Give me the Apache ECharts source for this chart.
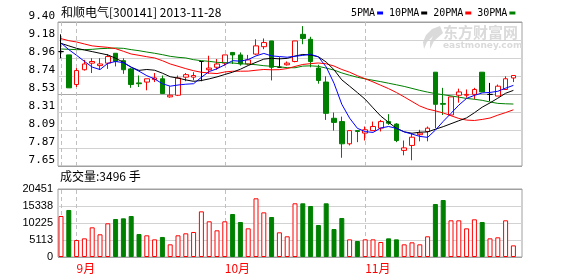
<!DOCTYPE html>
<html><head><meta charset="utf-8">
<script src="https://cdn.jsdelivr.net/npm/echarts@6/dist/echarts.min.js"></script>
<style>html,body{margin:0;padding:0;background:#fff}#c{width:578px;height:276px}</style>
</head><body><div id="c"></div>
<script>
const dates = ['2013-08-29','2013-08-30',
 '2013-09-02','2013-09-03','2013-09-04','2013-09-05','2013-09-06','2013-09-09','2013-09-10','2013-09-11','2013-09-12','2013-09-13',
 '2013-09-16','2013-09-17','2013-09-18','2013-09-23','2013-09-24','2013-09-25','2013-09-26','2013-09-27','2013-09-30',
 '2013-10-08','2013-10-09','2013-10-10','2013-10-11','2013-10-14','2013-10-15','2013-10-16','2013-10-17','2013-10-18',
 '2013-10-21','2013-10-22','2013-10-23','2013-10-24','2013-10-25','2013-10-28','2013-10-29','2013-10-30','2013-10-31',
 '2013-11-01','2013-11-04','2013-11-05','2013-11-06','2013-11-07','2013-11-08','2013-11-11','2013-11-12','2013-11-13','2013-11-14','2013-11-15',
 '2013-11-18','2013-11-19','2013-11-20','2013-11-21','2013-11-22','2013-11-25','2013-11-26','2013-11-27','2013-11-28'];
const opens = [9.04,9.00,8.64,8.82,8.90,8.87,8.90,9.02,8.93,8.83,8.66,8.67,8.70,8.71,8.49,8.51,8.73,8.73,8.92,8.82,8.85,8.90,9.03,9.00,8.89,9.01,9.10,9.17,8.85,8.88,8.92,9.25,9.19,8.84,8.67,8.23,8.19,7.92,8.08,8.05,8.08,8.11,8.19,8.16,7.84,7.90,8.03,8.07,8.79,8.41,8.27,8.51,8.51,8.52,8.79,8.52,8.50,8.58,8.72];
const closes = [9.04,8.60,8.81,8.89,8.92,8.89,8.98,8.92,8.82,8.64,8.65,8.71,8.72,8.53,8.51,8.72,8.76,8.75,8.92,8.84,8.89,9.00,9.00,8.89,8.94,9.11,9.15,8.85,8.85,8.90,9.17,9.20,8.92,8.69,8.29,8.18,7.92,8.08,8.07,8.09,8.13,8.19,8.17,7.96,7.87,8.00,8.05,8.11,8.40,8.40,8.49,8.55,8.52,8.58,8.55,8.52,8.62,8.71,8.75];
const lows = [8.96,8.60,8.61,8.81,8.78,8.82,8.83,8.86,8.77,8.60,8.61,8.57,8.67,8.53,8.48,8.50,8.68,8.69,8.68,8.77,8.82,8.87,8.89,8.87,8.88,9.00,9.07,8.69,8.85,8.87,8.91,9.13,8.85,8.65,8.21,8.08,7.75,7.90,7.94,7.96,8.08,8.07,8.15,7.94,7.78,7.72,7.95,7.95,8.11,8.27,8.27,8.42,8.48,8.46,8.55,8.44,8.50,8.58,8.67];
const highs = [9.25,9.00,8.84,8.94,8.96,8.96,9.01,9.02,8.96,8.84,8.75,8.71,8.78,8.75,8.62,8.75,8.78,8.79,8.92,8.99,8.95,9.00,9.03,9.03,9.00,9.19,9.20,9.17,8.97,8.92,9.17,9.35,9.22,8.88,8.74,8.30,8.25,8.08,8.08,8.13,8.19,8.21,8.28,8.17,7.96,8.05,8.09,8.13,8.79,8.60,8.49,8.59,8.58,8.60,8.79,8.66,8.64,8.74,8.75];
const volumes = [12330,14140,5113,5610,8920,6820,10130,11430,11630,12330,6920,6520,5310,6020,3810,6520,7120,7520,13730,10730,8020,10730,12930,10530,8620,17650,13430,12030,7420,6220,16150,16150,15340,9620,16150,8420,11730,5310,4810,5310,5310,4510,5610,5310,3810,4410,3810,6220,15940,17140,11030,11030,8620,11330,10530,5610,5920,11030,3496];
const ma5 = [9.145,9.064,8.995,8.922,8.852,8.822,8.898,8.92,8.906,8.85,8.802,8.748,8.708,8.65,8.62,8.634,8.644,8.65,8.728,8.798,8.832,8.88,8.93,8.924,8.944,8.988,9.018,8.988,8.98,8.972,8.984,8.994,9.008,8.976,8.854,8.656,8.40,8.232,8.108,8.068,8.058,8.112,8.13,8.108,8.064,8.038,8.01,7.998,8.086,8.192,8.29,8.39,8.472,8.508,8.538,8.544,8.558,8.596,8.63];
const ma10 = [9.14,9.11,9.08,9.06,9.04,9.02,9.00,8.96,8.91,8.851,8.812,8.823,8.814,8.778,8.735,8.718,8.696,8.679,8.689,8.709,8.733,8.762,8.79,8.826,8.871,8.91,8.949,8.959,8.952,8.958,8.986,9.006,8.998,8.978,8.913,8.82,8.697,8.62,8.542,8.461,8.357,8.256,8.181,8.108,8.066,8.048,8.061,8.064,8.097,8.128,8.164,8.20,8.235,8.297,8.365,8.417,8.474,8.534,8.569];
const ma20 = [9.198,9.173,9.157,9.133,9.11,9.10,9.092,9.076,9.044,9.011,8.995,8.978,8.963,8.93,8.89,8.862,8.833,8.808,8.789,8.78,8.773,8.793,8.802,8.802,8.803,8.814,8.823,8.819,8.821,8.834,8.86,8.884,8.894,8.902,8.892,8.865,8.823,8.79,8.747,8.71,8.672,8.631,8.59,8.543,8.49,8.434,8.379,8.342,8.32,8.295,8.261,8.228,8.208,8.203,8.216,8.233,8.268,8.299,8.333];
const ma30 = [9.072,9.068,9.064,9.064,9.068,9.076,9.08,9.084,9.08,9.064,9.051,9.035,9.02,9.003,8.983,8.971,8.963,8.942,8.93,8.922,8.91,8.905,8.902,8.893,8.888,8.881,8.869,8.862,8.855,8.845,8.844,8.864,8.867,8.861,8.84,8.816,8.781,8.753,8.728,8.709,8.692,8.675,8.656,8.637,8.617,8.593,8.569,8.548,8.53,8.516,8.502,8.487,8.471,8.461,8.448,8.428,8.411,8.406,8.403];
const priceTicks = ['7.65','7.87','8.09','8.31','8.53','8.74','8.96','9.18','9.40'];
const volTicks = ['0','5113','10225','15338','20451'];
const monthLineIdx = [0, 2, 21, 39];
const monthLabelIdx = [2, 21, 39];
const monthLabels = ['9月', '10月', '11月'];
const stockTitle = '和顺电气[300141] 2013-11-28';

const RED = '#ff0000', GREEN = '#008000', GRIDC = '#d2d2d2', FRAME = '#a0a0a0';
const candleData = opens.map((o, i) => [o, closes[i], lows[i], highs[i]]);
const volUp = volumes.map((v, i) => closes[i] >= opens[i] ? v : '-');
const volDown = volumes.map((v, i) => closes[i] < opens[i] ? v : '-');
const monthLines = monthLineIdx.map(i => ({ xAxis: i }));
const markLineStyle = { silent: true, symbol: 'none', z: 1, label: { show: false },
  lineStyle: { color: '#c0c0c0', type: [4, 3], width: 1 }, data: monthLines, animation: false };
const mono = 'DejaVu Sans Mono';
const cjk = 'Noto Sans CJK SC';

const chart = echarts.init(document.getElementById('c'), null, { renderer: 'canvas' });
chart.setOption({
  animation: false,
  backgroundColor: '#fff',
  title: [
    { text: stockTitle, left: 61, top: 6, padding: 0, textStyle: { fontSize: 12, fontWeight: 'normal', fontFamily: cjk, color: '#000' } },
    { text: '成交量:' + volumes[volumes.length - 1] + ' 手', left: 60, top: 170, padding: 0, textStyle: { fontSize: 12, fontWeight: 'normal', fontFamily: cjk, color: '#000' } }
  ],
  legend: {
    left: 351, top: 8, padding: 0, align: 'right', itemWidth: 6, itemHeight: 3, itemGap: 6, selectedMode: false,
    textStyle: { fontFamily: mono, fontSize: 10, color: '#000', padding: [0, -3, 0, 0] },
    data: [{ name: '5PMA', icon: 'rect' }, { name: '10PMA', icon: 'rect' }, { name: '20PMA', icon: 'rect' }, { name: '30PMA', icon: 'rect' }]
  },
  graphic: [
    { type: 'polygon', z: 0, silent: true, shape: { points: [[440,26],[432,29],[426,35],[423,42],[424,49],[427,42],[433,36],[430,42],[430,49],[434,41],[443,33]] }, style: { fill: '#dadada' } },
    { type: 'text', left: 443, top: 25, z: 0, silent: true, style: { text: '东方财富网', font: 'bold 15px "Noto Sans CJK SC"', fill: '#dadada' } },
    { type: 'text', left: 443, top: 41, z: 0, silent: true, style: { text: 'eastmoney.com', font: 'bold 9px "DejaVu Sans"', fill: '#dadada' } }
  ],
  grid: [
    { left: 58, top: 22, width: 464, height: 144, show: true, borderColor: FRAME, borderWidth: 1, backgroundColor: 'transparent' },
    { left: 57.1, top: 22, width: 460.2, height: 144 },
    { left: 58, top: 189, width: 464, height: 68, show: true, borderColor: FRAME, borderWidth: 1, backgroundColor: 'transparent' },
    { left: 57.1, top: 189, width: 460.2, height: 68 }
  ],
  xAxis: [
    { gridIndex: 0, type: 'value', min: 0, max: 1, show: false },
    { gridIndex: 1, type: 'category', data: dates, show: false },
    { gridIndex: 2, type: 'value', min: 0, max: 1, show: false },
    { gridIndex: 3, type: 'category', data: dates, axisLine: { show: false }, axisTick: { show: false }, splitLine: { show: false },
      axisLabel: { interval: (i) => monthLabelIdx.includes(i), formatter: (v, i) => monthLabels[monthLabelIdx.indexOf(i)],
        color: RED, fontSize: 12, fontFamily: cjk, align: 'left', margin: 5 } }
  ],
  yAxis: [
    { gridIndex: 0, type: 'value', min: 0, max: 8, interval: 1, axisLine: { show: false }, axisTick: { show: false },
      axisLabel: { formatter: (v) => priceTicks[v], verticalAlign: 'bottom', margin: 3, fontFamily: mono, fontSize: 11, color: '#000', showMinLabel: true, showMaxLabel: true },
      splitLine: { lineStyle: { width: 1, color: [FRAME, GRIDC, GRIDC, GRIDC, '#a8a8a8', GRIDC, GRIDC, GRIDC, FRAME] } } },
    { gridIndex: 1, type: 'value', min: 7.65, max: 9.40, show: false, splitLine: { show: false } },
    { gridIndex: 2, type: 'value', min: 0, max: 4, interval: 1, axisLine: { show: false }, axisTick: { show: false },
      axisLabel: { formatter: (v) => volTicks[v], verticalAlign: 'middle', padding: [5, 0, 0, 0], margin: 5, fontFamily: 'Liberation Sans', fontSize: 11, color: '#000', showMinLabel: true, showMaxLabel: true },
      splitLine: { lineStyle: { width: 1, color: [FRAME, GRIDC, GRIDC, GRIDC, FRAME] } } },
    { gridIndex: 3, type: 'value', min: 0, max: 20451, show: false, splitLine: { show: false } }
  ],
  series: [
    { type: 'candlestick', name: 'K', xAxisIndex: 1, yAxisIndex: 1, data: candleData, barWidth: 5,
      itemStyle: { color: '#ffffff', color0: GREEN, borderColor: RED, borderColor0: GREEN, borderColorDoji: '#000000', borderWidth: 1 },
      markLine: markLineStyle },
    { type: 'line', name: '30PMA', xAxisIndex: 1, yAxisIndex: 1, data: ma30, symbol: 'none', lineStyle: { color: GREEN, width: 1 }, itemStyle: { color: GREEN } },
    { type: 'line', name: '20PMA', xAxisIndex: 1, yAxisIndex: 1, data: ma20, symbol: 'none', lineStyle: { color: RED, width: 1 }, itemStyle: { color: RED } },
    { type: 'line', name: '10PMA', xAxisIndex: 1, yAxisIndex: 1, data: ma10, symbol: 'none', lineStyle: { color: '#000000', width: 1 }, itemStyle: { color: '#000000' } },
    { type: 'line', name: '5PMA', xAxisIndex: 1, yAxisIndex: 1, data: ma5, symbol: 'none', lineStyle: { color: '#0000ff', width: 1 }, itemStyle: { color: '#0000ff' } },
    { type: 'bar', name: 'volUp', xAxisIndex: 3, yAxisIndex: 3, data: volUp, barWidth: 5, barGap: '-100%',
      itemStyle: { color: '#ffffff', borderColor: RED, borderWidth: 1 }, markLine: markLineStyle },
    { type: 'bar', name: 'volDown', xAxisIndex: 3, yAxisIndex: 3, data: volDown, barWidth: 5, barGap: '-100%',
      itemStyle: { color: GREEN, borderColor: GREEN, borderWidth: 1 } }
  ]
});
</script>
</body></html>
